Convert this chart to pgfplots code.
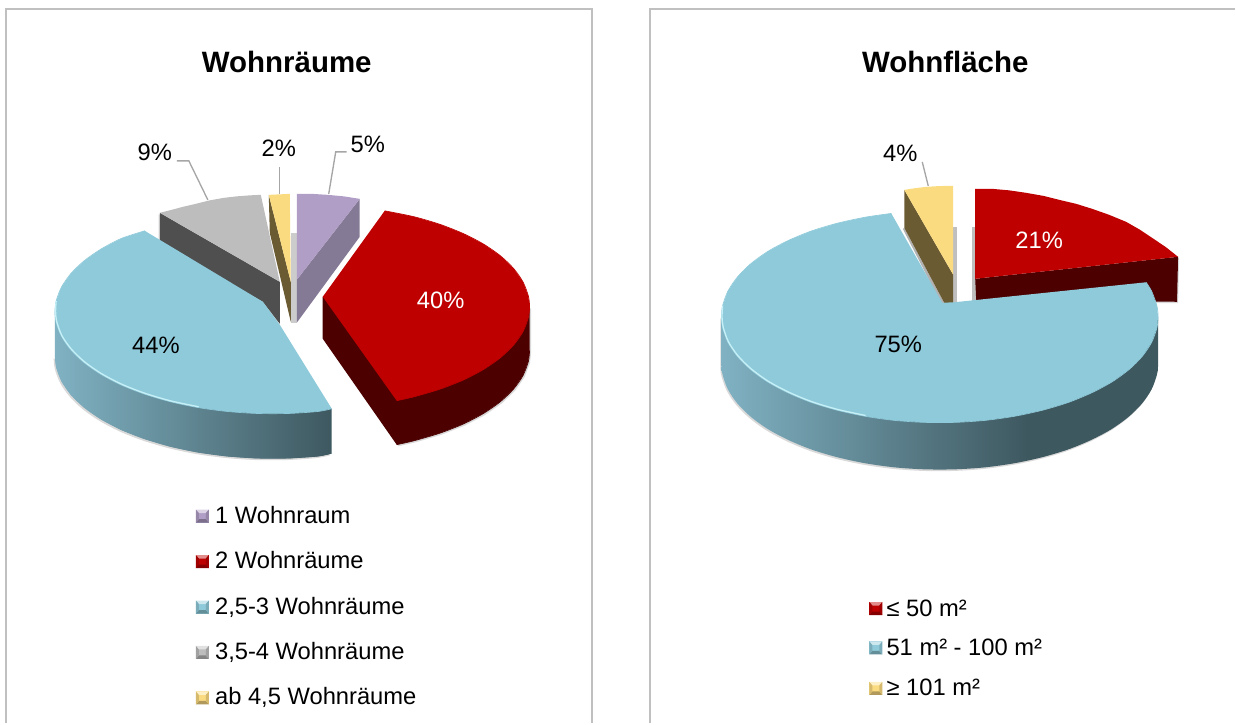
\documentclass[border=0pt]{standalone}
\usepackage{pgfplots}
\usepackage{fontspec}
\pgfplotsset{compat=1.18}
\setmainfont{Liberation Sans}

\definecolor{piblue}{HTML}{8FCADA}
\definecolor{pirim}{HTML}{C6F0F7}
\definecolor{pired}{HTML}{BE0000}
\definecolor{piredw}{HTML}{4C0000}
\definecolor{pipurple}{HTML}{B09EC6}
\definecolor{pipurplew}{HTML}{857A96}
\definecolor{pigrey}{HTML}{BDBDBD}
\definecolor{pigreyw}{HTML}{4F4F4F}
\definecolor{piyellow}{HTML}{FBDB80}
\definecolor{piyelloww}{HTML}{6B5B32}
\definecolor{frame}{HTML}{C0C0C0}
\definecolor{leader}{HTML}{A6A6A6}
\definecolor{wallA}{HTML}{80B2C3}
\definecolor{wallB}{HTML}{3E5860}

\pgfdeclarehorizontalshading{wallleft}{100bp}{color(0bp)=(wallA); color(25bp)=(wallA); color(75bp)=(wallB); color(100bp)=(wallB)}
\pgfdeclarehorizontalshading{wallright}{100bp}{color(0bp)=(wallA); color(25bp)=(wallA); color(60bp)=(wallB); color(100bp)=(wallB)}

% one bevelled legend square, pixel position of its centre
\newcommand{\legkey}[3]{%
  \fill[#3] (axis cs:#1-6.5,#2-6.5) rectangle (axis cs:#1+6.5,#2+6.5);
  \fill[#3!45!white] (axis cs:#1-6.5,#2-6.5) -- (axis cs:#1+6.5,#2-6.5) -- (axis cs:#1+3.5,#2-3) -- (axis cs:#1-3.5,#2-3) -- cycle;
  \fill[#3!70!black] (axis cs:#1-6.5,#2+6.5) -- (axis cs:#1+6.5,#2+6.5) -- (axis cs:#1+3.5,#2+3) -- (axis cs:#1-3.5,#2+3) -- cycle;
  \fill[#3!85!black] (axis cs:#1-6.5,#2-6.5) -- (axis cs:#1-3.5,#2-3) -- (axis cs:#1-3.5,#2+3) -- (axis cs:#1-6.5,#2+6.5) -- cycle;
  \fill[#3!85!black] (axis cs:#1+6.5,#2-6.5) -- (axis cs:#1+3.5,#2-3) -- (axis cs:#1+3.5,#2+3) -- (axis cs:#1+6.5,#2+6.5) -- cycle;
}
\newcommand{\pct}[4][black]{\node[anchor=base,inner sep=0pt,text=#1,font=\fontsize{17.8}{20}\selectfont] at (axis cs:#2,#3) {#4};}
\newcommand{\legtxt}[3]{\node[anchor=base west,inner sep=0pt,font=\fontsize{17.8}{20}\selectfont] at (axis cs:#1,#2) {#3};}

\begin{document}
\begin{tikzpicture}
\begin{axis}[
  hide axis, scale only axis, clip=false,
  width=927pt, height=543pt,
  xmin=0, xmax=1236, ymin=0, ymax=724, y dir=reverse]

% keeps the whole page in the bounding box
\path (axis cs:0,0) rectangle (axis cs:1236,724);

% panel frames
\addplot[frame, line width=1.5pt] coordinates {(6,724) (6,9) (592,9) (592,724)};
\addplot[frame, line width=1.5pt] coordinates {(650.5,724) (650.5,9) (1236,9)};

\node[anchor=base,inner sep=0pt,font=\fontsize{22.1}{24}\selectfont\bfseries] at (axis cs:287,73) {Wohnräume};
\node[anchor=base,inner sep=0pt,font=\fontsize{22.1}{24}\selectfont\bfseries] at (axis cs:946,73) {Wohnfläche};

% slices are polygons; a smooth stroke along each long arc hides the facets
% ---- left pie ----
% 3,5-4 Wohnraeume
\addplot[fill=black!25, draw=none, opacity=.6, xshift=-1pt, yshift=-1pt] coordinates {(160,213) (280,282) (280,324) (263,302) (160,243)};
\addplot[fill=pigreyw, draw=none] coordinates {(160,213) (280,282) (280,324) (263,302) (160,243)};
\addplot[fill=pigrey, draw=none] coordinates {(160,213) (170,210.5) (183,207) (196,204) (210,200.5) (224,198) (237,196.5) (250,195.5) (261,195) (280,282)};
% ab 4,5
\addplot[fill=black!20, draw=none] coordinates {(291,233) (297,233) (297,323) (291,323)};
\addplot[fill=piyelloww, draw=none] coordinates {(269,195) (291,282) (291,322) (270,233)};
\addplot[fill=piyellow, draw=none] coordinates {(269,195) (280,194.5) (290,194) (291,282)};
% 1 Wohnraum
\addplot[fill=pipurplew, draw=none] coordinates {(360,199) (360,237) (297,323) (297,280)};
\addplot[fill=pipurple, draw=none] coordinates {(297,194) (312,194) (328,195) (344,196.5) (360,199) (297,280)};
% 2 Wohnraeume
\addplot[fill=black!25, draw=none, opacity=.6, xshift=1.2pt, yshift=-1.2pt] coordinates {(323,297) (323,339) (397,445) (414.3,441.1) (440.2,433.5) (463.5,424.4) (483.8,413.8) (500.8,402) (514.1,389.2) (523.5,375.7) (528.8,361.7) (530,351) (530,307)};
\addplot[fill=piredw, draw=none] coordinates {(323,297) (323,339) (397,445) (414.3,441.1) (440.2,433.5) (463.5,424.4) (483.8,413.8) (500.8,402) (514.1,389.2) (523.5,375.7) (528.8,361.7) (530,351) (530,307)};
\addplot[piredw, line width=.5pt, smooth] coordinates {(397,445) (414.3,441.1) (440.2,433.5) (463.5,424.4) (483.8,413.8) (500.8,402) (514.1,389.2) (523.5,375.7) (528.8,361.7) (530,351)};
\addplot[fill=pired, draw=none] coordinates {(323,297) (385,211) (414.3,216.9) (440.2,224.5) (463.5,233.7) (483.8,244.2) (500.8,256) (514.1,268.8) (523.5,282.3) (528.8,296.3) (530,307) (528.8,317.7) (523.5,331.7) (514.1,345.2) (500.8,358) (483.8,369.8) (463.5,380.4) (440.2,389.5) (414.3,397.1) (397,401)};
\addplot[pired, line width=.5pt, smooth] coordinates {(385,211) (414.3,216.9) (440.2,224.5) (463.5,233.7) (483.8,244.2) (500.8,256) (514.1,268.8) (523.5,282.3) (528.8,296.3) (530,307) (528.8,317.7) (523.5,331.7) (514.1,345.2) (500.8,358) (483.8,369.8) (463.5,380.4) (440.2,389.5) (414.3,397.1) (397,401)};
% 2,5-3 Wohnraeume
\addplot[fill=black!25, draw=none, opacity=.6, smooth, xshift=-1pt, yshift=-1.2pt] coordinates {(55,357) (56.2,367.7) (61.5,381.7) (70.9,395.2) (84.2,408) (101.2,419.8) (121.5,430.4) (144.9,439.5) (170.7,447.1) (198.4,452.9) (227.7,456.8) (257.7,458.8) (288.3,458.8) (318.3,456.8) (332,454)};
\addplot[shading=wallleft, draw=none] coordinates {(55,312) (55,357) (56.2,367.7) (61.5,381.7) (70.9,395.2) (84.2,408) (101.2,419.8) (121.5,430.4) (144.9,439.5) (170.7,447.1) (198.4,452.9) (227.7,456.8) (257.7,458.8) (288.3,458.8) (318.3,456.8) (332,454) (332,409)};
\addplot[shading=wallleft, draw=none, smooth] coordinates {(55,357) (56.2,367.7) (61.5,381.7) (70.9,395.2) (84.2,408) (101.2,419.8) (121.5,430.4) (144.9,439.5) (170.7,447.1) (198.4,452.9) (227.7,456.8) (257.7,458.8) (288.3,458.8) (318.3,456.8) (332,454)};
\addplot[fill=piblue, draw=none] coordinates {(144.9,231) (121.5,238.6) (101.2,249.2) (84.2,261) (70.9,273.8) (61.5,287.3) (56.2,301.3) (55,312) (56.2,322.7) (61.5,336.7) (70.9,350.2) (84.2,363) (101.2,374.8) (121.5,385.4) (144.9,394.5) (170.7,402.1) (198.4,407.9) (227.7,411.8) (257.7,413.8) (288.3,413.8) (318.3,411.8) (332,409) (280,325) (263,302)};
\addplot[piblue, line width=.5pt, smooth] coordinates {(144.9,231) (121.5,238.6) (101.2,249.2) (84.2,261) (70.9,273.8) (61.5,287.3) (56.2,301.3) (55,312) (56.2,322.7) (61.5,336.7) (70.9,350.2) (84.2,363) (101.2,374.8) (121.5,385.4) (144.9,394.5) (170.7,402.1) (198.4,407.9) (227.7,411.8) (257.7,413.8) (288.3,413.8) (318.3,411.8) (332,409)};
\addplot[pirim, line width=1pt, smooth] coordinates {(56.2,301.3) (55.6,312) (56.8,322) (62,336) (71.4,349.4) (84.7,362.2) (101.7,374) (122,384.6) (145.4,393.7) (171.2,401.3) (198.9,407.1)};

\pct{155}{161}{9\%}
\pct{279}{157}{2\%}
\pct{368}{153}{5\%}
\pct[white]{441}{309}{40\%}
\pct{156}{354}{44\%}
\addplot[leader, line width=1pt] coordinates {(177,161) (189,161) (208,200)};
\addplot[leader, line width=1pt] coordinates {(280,167) (280,194)};
\addplot[leader, line width=1pt] coordinates {(347,152) (336,152) (329,194)};

\legkey{202.5}{516.5}{pipurple}
\legkey{202.5}{562}{pired}
\legkey{202.5}{607.5}{piblue}
\legkey{202.5}{653}{pigrey}
\legkey{202.5}{698.5}{piyellow}
\legtxt{215}{523.5}{1 Wohnraum}
\legtxt{215}{569}{2 Wohnräume}
\legtxt{215}{614.5}{2,5-3 Wohnräume}
\legtxt{215}{660}{3,5-4 Wohnräume}
\legtxt{215}{705.5}{ab 4,5 Wohnräume}

% ---- right pie ----
% <= 50 m2
\addplot[fill=black!25, draw=none] coordinates {(973,227) (977,227) (977,301) (973,301)};
\addplot[fill=black!25, draw=none, opacity=.6, xshift=.8pt, yshift=-1pt] coordinates {(976,279) (1179,257) (1178,302) (977,301)};
\addplot[fill=piredw, draw=none] coordinates {(976,279) (1179,257) (1178,302) (977,301)};
\addplot[fill=pired, draw=none] coordinates {(976,189) (993,189) (1010,190.5) (1027,193) (1044,196) (1060,200) (1077,204) (1093,209) (1110,215) (1127,222) (1141,230) (1153,238) (1167,247.5) (1179,257) (976,279)};
% >= 101 m2
\addplot[fill=black!25, draw=none] coordinates {(954,227) (958,227) (958,303) (954,303)};
\addplot[fill=black!30, draw=none] coordinates {(903.5,229) (905,228) (945,303) (942,304)};
\addplot[fill=piyelloww, draw=none] coordinates {(905,190) (954,275) (954,303) (945,303) (905,228)};
\addplot[fill=piyellow, draw=none] coordinates {(905,190) (916,188.3) (927,187) (940,186.2) (954,186) (954,275)};
% 51-100 m2
\addplot[fill=black!25, draw=none, opacity=.6, smooth, xshift=-.8pt, yshift=-1.2pt] coordinates {(722,317) (722,364) (723.2,375.1) (728.5,389.7) (738,403.8) (751.3,417) (768.3,429.3) (788.7,440.2) (812,449.8) (838,457.6) (865.8,463.6) (895.1,467.7) (925.3,469.7) (955.7,469.7) (985.9,467.7) (1015.2,463.6) (1043,457.6) (1069,449.8) (1092.3,440.2) (1112.7,429.3) (1129.7,417) (1143,403.8) (1152.5,389.7) (1157.8,375.1) (1159,364) (1159,317)};
\addplot[shading=wallright, draw=none, smooth] coordinates {(722,317) (722,364) (723.2,375.1) (728.5,389.7) (738,403.8) (751.3,417) (768.3,429.3) (788.7,440.2) (812,449.8) (838,457.6) (865.8,463.6) (895.1,467.7) (925.3,469.7) (955.7,469.7) (985.9,467.7) (1015.2,463.6) (1043,457.6) (1069,449.8) (1092.3,440.2) (1112.7,429.3) (1129.7,417) (1143,403.8) (1152.5,389.7) (1157.8,375.1) (1159,364) (1159,317)};
\addplot[fill=piblue, draw=none] coordinates {(892,213.6) (865.8,217.4) (838,223.4) (812,231.2) (788.7,240.8) (768.3,251.7) (751.3,264) (738,277.3) (728.5,291.3) (723.2,305.9) (722,317) (723.2,328.1) (728.5,342.7) (738,356.8) (751.3,370) (768.3,382.3) (788.7,393.2) (812,402.8) (838,410.6) (865.8,416.6) (895.1,420.7) (925.3,422.7) (955.7,422.7) (985.9,420.7) (1015.2,416.6) (1043,410.6) (1069,402.8) (1092.3,393.2) (1112.7,382.3) (1129.7,370) (1143,356.8) (1152.5,342.7) (1157.8,328.1) (1159,317) (1157.8,305.9) (1152.5,291.3) (1147,282.5) (955,302.5) (943,303)};
\addplot[piblue, line width=.5pt, smooth] coordinates {(892,213.6) (865.8,217.4) (838,223.4) (812,231.2) (788.7,240.8) (768.3,251.7) (751.3,264) (738,277.3) (728.5,291.3) (723.2,305.9) (722,317) (723.2,328.1) (728.5,342.7) (738,356.8) (751.3,370) (768.3,382.3) (788.7,393.2) (812,402.8) (838,410.6) (865.8,416.6) (895.1,420.7) (925.3,422.7) (955.7,422.7) (985.9,420.7) (1015.2,416.6) (1043,410.6) (1069,402.8) (1092.3,393.2) (1112.7,382.3) (1129.7,370) (1143,356.8) (1152.5,342.7) (1157.8,328.1) (1159,317) (1157.8,305.9) (1152.5,291.3) (1147,282.5)};
\addplot[pirim, line width=1pt, smooth] coordinates {(723.2,305.9) (722.6,317) (723.8,327.5) (729,342) (738.5,356) (751.8,369.2) (768.8,381.5) (789.2,392.4) (812.5,402) (838.5,409.8) (866.3,415.8)};

\pct{901}{162}{4\%}
\pct[white]{1040}{249}{21\%}
\pct{899}{353}{75\%}
\addplot[leader, line width=1pt] coordinates {(923,162) (929,186)};

\legkey{876.5}{609}{pired}
\legkey{876.5}{648.5}{piblue}
\legkey{876.5}{689}{piyellow}
\legtxt{887}{617}{≤ 50 m²}
\legtxt{887}{656}{51 m² - 100 m²}
\legtxt{887}{696}{≥ 101 m²}
\end{axis}
\end{tikzpicture}
\end{document}
